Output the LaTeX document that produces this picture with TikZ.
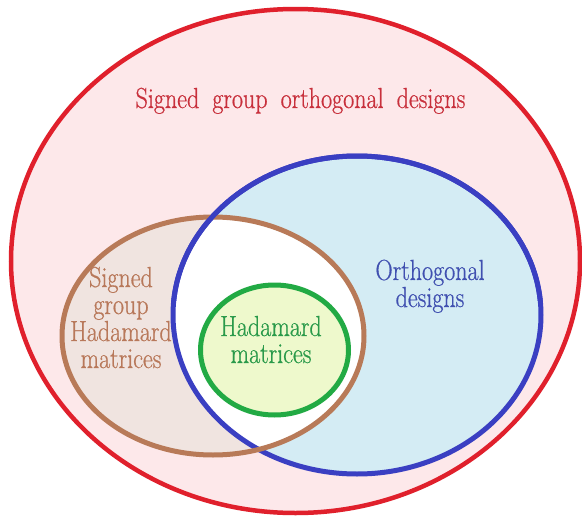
\documentclass[tikz,border=0pt]{standalone}
\usepackage{fontspec}
\setmainfont{Latin Modern Roman}[FakeStretch=0.83, FakeBold=0.6, WordSpace=1.8]
\definecolor{redline}{HTML}{E0202C}
\definecolor{redfill}{HTML}{FDE8EA}
\definecolor{redtext}{HTML}{C8303C}
\definecolor{blueline}{HTML}{3A3FC2}
\definecolor{bluefill}{HTML}{D4ECF4}
\definecolor{bluetext}{HTML}{4050B0}
\definecolor{brownline}{HTML}{B87A58}
\definecolor{brownfill}{HTML}{F0E4E0}
\definecolor{browntext}{HTML}{B8785A}
\definecolor{greenline}{HTML}{22AA44}
\definecolor{greenfill}{HTML}{EEF9CC}
\definecolor{greentext}{HTML}{2A9A4A}
\tikzset{
  lbl/.style={inner sep=0pt, align=center, font=\fontsize{29}{27}\selectfont},
}
\begin{document}
\begin{tikzpicture}[x=1pt,y=-1pt]
\useasboundingbox (0,0) rectangle (582,517);
\fill[white] (0,0) rectangle (582,517);
% outer set
\draw[redline, line width=4.5pt, fill=redfill] (295.5,261) ellipse [x radius=284.5, y radius=252];
% fills
\fill[bluefill] (357,315) ellipse [x radius=184, y radius=159];
\fill[brownfill] (213,336) ellipse [x radius=151, y radius=119];
\begin{scope}
  \clip (357,315) ellipse [x radius=184, y radius=159];
  \fill[white] (213,336) ellipse [x radius=151, y radius=119];
\end{scope}
\fill[greenfill] (274.5,350) ellipse [x radius=74, y radius=65];
% outlines
\draw[blueline, line width=5pt] (357,315) ellipse [x radius=184, y radius=159];
\draw[brownline, line width=5pt] (213,336) ellipse [x radius=151, y radius=119];
\begin{scope}
  \clip (0,0) rectangle (582,300);
  \draw[blueline, line width=5pt] (357,315) ellipse [x radius=184, y radius=159];
\end{scope}
\draw[greenline, line width=5pt] (274.5,350) ellipse [x radius=74, y radius=65];
% labels
\node[lbl, text=redtext, anchor=base] (sgod) at (300.5,108) {Signed group orthogonal designs};
\node[lbl, text=bluetext, anchor=base, font=\fontsize{29}{25}\selectfont] (od) at (430,307) {Orthogonal\\designs};
\node[lbl, text=browntext, anchor=base] (sghm) at (121,368) {Signed\\group\\Hadamard\\matrices};
\node[lbl, text=greentext, anchor=base] (hm) at (271,363) {Hadamard\\matrices};
\end{tikzpicture}
\end{document}
